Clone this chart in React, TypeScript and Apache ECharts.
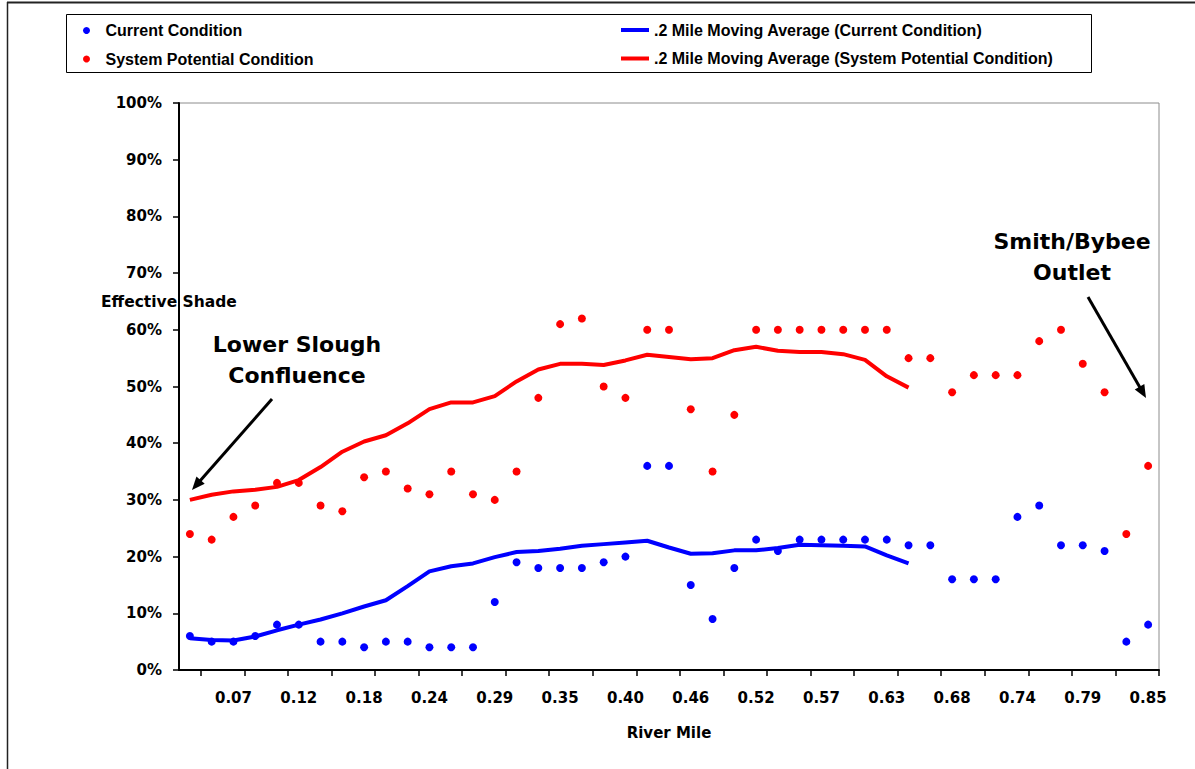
import React, { useEffect, useRef } from 'react';
import * as echarts from 'echarts';

const riverMile = [
  '0.03', '0.05', '0.07', '0.09', '0.10', '0.12', '0.14', '0.16', '0.18', '0.20',
  '0.22', '0.24', '0.25', '0.27', '0.29', '0.31', '0.33', '0.35', '0.37', '0.38',
  '0.40', '0.42', '0.44', '0.46', '0.48', '0.50', '0.52', '0.53', '0.55', '0.57',
  '0.59', '0.61', '0.63', '0.65', '0.66', '0.68', '0.70', '0.72', '0.74', '0.76',
  '0.78', '0.79', '0.81', '0.83', '0.85',
];

const currentCondition = [
  6, 5, 5, 6, 8, 8, 5, 5, 4, 5, 5, 4, 4, 4, 12, 19, 18, 18, 18, 19, 20, 36, 36, 15, 9,
  18, 23, 21, 23, 23, 23, 23, 23, 22, 22, 16, 16, 16, 27, 29, 22, 22, 21, 5, 8,
];

const systemPotential = [
  24, 23, 27, 29, 33, 33, 29, 28, 34, 35, 32, 31, 35, 31, 30, 35, 48, 61, 62, 50, 48, 60, 60, 46, 35,
  45, 60, 60, 60, 60, 60, 60, 60, 55, 55, 49, 52, 52, 52, 58, 60, 54, 49, 24, 36,
];

const avgCurrent = [
  5.6, 5.3, 5.2, 5.9, 7.0, 8.0, 8.9, 10.0, 11.2, 12.3, 14.8, 17.4, 18.3, 18.8, 19.9, 20.8, 21.0,
  21.4, 21.9, 22.2, 22.5, 22.8, 21.6, 20.5, 20.6, 21.1, 21.1, 21.5, 22.1, 22.0, 21.9, 21.8, 20.2, 18.8,
];

const avgSystem = [
  30.0, 30.9, 31.5, 31.8, 32.3, 33.5, 35.8, 38.5, 40.3, 41.4, 43.5, 46.0, 47.2, 47.2, 48.3, 50.9, 53.0,
  54.0, 54.0, 53.8, 54.6, 55.6, 55.2, 54.8, 55.0, 56.4, 57.0, 56.3, 56.1, 56.1, 55.7, 54.7, 51.8, 49.8,
];

const seriesNames = {
  cur: 'Current Condition',
  sys: 'System Potential Condition',
  avgCur: '.2 Mile Moving Average (Current Condition)',
  avgSys: '.2 Mile Moving Average (System Potential Condition)',
};

const BODY_FONT = '"DejaVu Sans", sans-serif';
const LEGEND_FONT = '"Liberation Sans", Arial, sans-serif';

function arrow(sx: number, sy: number, tx: number, ty: number) {
  const dx = tx - sx;
  const dy = ty - sy;
  const len = Math.sqrt(dx * dx + dy * dy);
  const ux = dx / len;
  const uy = dy / len;
  const nx = -uy;
  const ny = ux;
  const hl = 13;
  const hw = 5.5;
  const bx = tx - ux * hl;
  const by = ty - uy * hl;
  return [
    {
      type: 'line',
      shape: { x1: sx, y1: sy, x2: bx + ux * 2, y2: by + uy * 2 },
      style: { stroke: '#000', lineWidth: 3 },
      z: 10,
    },
    {
      type: 'polygon',
      shape: {
        points: [
          [tx, ty],
          [bx + nx * hw, by + ny * hw],
          [bx - nx * hw, by - ny * hw],
        ],
      },
      style: { fill: '#000' },
      z: 10,
    },
  ];
}

export default function App() {
  const ref = useRef<HTMLDivElement>(null);

  useEffect(() => {
    if (!ref.current) return;
    const chart = echarts.init(ref.current, undefined, { renderer: 'svg' });

    const legendText = {
      fontFamily: LEGEND_FONT,
      fontWeight: 'bold',
      fontSize: 16,
      color: '#000',
      lineHeight: 16,
    };

    const option: any = {
      animation: false,
      backgroundColor: '#fff',
      grid: {
        left: 179,
        top: 103,
        right: 36,
        bottom: 99,
        show: true,
        borderColor: '#8c8c8c',
        borderWidth: 1,
        backgroundColor: 'transparent',
      },
      legend: [
        {
          data: [{ name: seriesNames.cur, icon: 'circle' }],
          left: 83,
          top: 22.5,
          padding: 0,
          itemWidth: 28,
          itemHeight: 7,
          textStyle: legendText,
          selectedMode: false,
        },
        {
          data: [{ name: seriesNames.sys, icon: 'circle' }],
          left: 83,
          top: 51,
          padding: 0,
          itemWidth: 28,
          itemHeight: 7,
          textStyle: legendText,
          selectedMode: false,
        },
        {
          data: [{ name: seriesNames.avgCur, icon: 'rect' }],
          left: 621,
          top: 22,
          padding: 0,
          itemWidth: 28,
          itemHeight: 4,
          textStyle: legendText,
          selectedMode: false,
        },
        {
          data: [{ name: seriesNames.avgSys, icon: 'rect' }],
          left: 621,
          top: 50.5,
          padding: 0,
          itemWidth: 28,
          itemHeight: 4,
          textStyle: legendText,
          selectedMode: false,
        },
      ],
      xAxis: {
        type: 'category',
        data: riverMile,
        boundaryGap: true,
        name: 'River Mile',
        nameLocation: 'middle',
        nameGap: 55,
        nameTextStyle: {
          fontFamily: BODY_FONT,
          fontWeight: 'bold',
          fontSize: 15,
          color: '#000',
        },
        axisLine: { show: true, lineStyle: { color: '#000', width: 2 } },
        axisTick: {
          show: true,
          length: 6,
          interval: (i: number) => i % 2 === 1,
          lineStyle: { color: '#000', width: 1.5 },
        },
        axisLabel: {
          interval: (i: number) => i % 3 === 2,
          fontFamily: BODY_FONT,
          fontWeight: 'bold',
          fontSize: 15,
          color: '#000',
          margin: 20,
        },
        splitLine: { show: false },
      },
      yAxis: {
        type: 'value',
        min: 0,
        max: 100,
        interval: 10,
        axisLine: { show: true, lineStyle: { color: '#000', width: 2 } },
        axisTick: { show: true, length: 6, lineStyle: { color: '#000', width: 1.5 } },
        axisLabel: {
          formatter: '{value}%',
          fontFamily: BODY_FONT,
          fontWeight: 'bold',
          fontSize: 15,
          color: '#000',
          margin: 17,
        },
        splitLine: { show: false },
      },
      series: [
        {
          name: seriesNames.cur,
          type: 'scatter',
          data: currentCondition,
          symbol: 'circle',
          symbolSize: 8,
          itemStyle: { color: '#0000ff', opacity: 1 },
          z: 2,
        },
        {
          name: seriesNames.sys,
          type: 'scatter',
          data: systemPotential,
          symbol: 'circle',
          symbolSize: 8,
          itemStyle: { color: '#ff0000', opacity: 1 },
          z: 2,
        },
        {
          name: seriesNames.avgCur,
          type: 'line',
          data: avgCurrent,
          showSymbol: false,
          symbol: 'none',
          itemStyle: { color: '#0000ff' },
          lineStyle: { color: '#0000ff', width: 4 },
          z: 3,
        },
        {
          name: seriesNames.avgSys,
          type: 'line',
          data: avgSystem,
          showSymbol: false,
          symbol: 'none',
          itemStyle: { color: '#ff0000' },
          lineStyle: { color: '#ff0000', width: 4 },
          z: 3,
        },
      ],
      graphic: [
        {
          type: 'rect',
          shape: { x: 66.5, y: 14.5, width: 1025, height: 58 },
          style: { fill: '#fff', stroke: '#000', lineWidth: 1 },
          z: -1,
        },
        {
          type: 'line',
          shape: { x1: 7, y1: 2.5, x2: 1195, y2: 2.5 },
          style: { stroke: '#222', lineWidth: 2 },
        },
        {
          type: 'line',
          shape: { x1: 7.5, y1: 2, x2: 7.5, y2: 769 },
          style: { stroke: '#222', lineWidth: 1.5 },
        },
        {
          type: 'text',
          x: 101,
          y: 302,
          style: {
            text: 'Effective Shade',
            font: `bold 15.5px ${BODY_FONT}`,
            fill: '#000',
            textAlign: 'left',
            textVerticalAlign: 'middle',
          },
          z: 5,
        },
        {
          type: 'text',
          x: 297,
          y: 360,
          style: {
            text: 'Lower Slough\nConfluence',
            font: `bold 22px ${BODY_FONT}`,
            lineHeight: 31,
            fill: '#000',
            textAlign: 'center',
            textVerticalAlign: 'middle',
          },
          z: 5,
        },
        {
          type: 'text',
          x: 1072,
          y: 257,
          style: {
            text: 'Smith/Bybee\nOutlet',
            font: `bold 22px ${BODY_FONT}`,
            lineHeight: 31,
            fill: '#000',
            textAlign: 'center',
            textVerticalAlign: 'middle',
          },
          z: 5,
        },
        ...arrow(272, 399, 192, 490),
        ...arrow(1088, 297, 1146, 398),
      ],
    };

    chart.setOption(option);
    return () => chart.dispose();
  }, []);

  return (
    <div
      ref={ref}
      style={{ position: 'fixed', left: 0, top: 0, width: 1195, height: 769, background: '#fff' }}
    />
  );
}
